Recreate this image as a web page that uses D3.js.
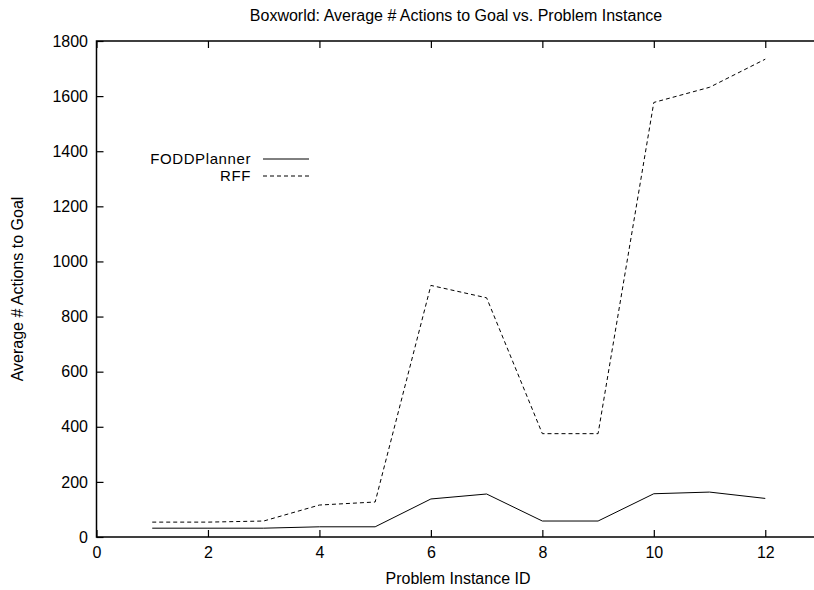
<!DOCTYPE html>
<html>
<head>
<meta charset="utf-8">
<script src="https://cdn.jsdelivr.net/npm/d3@7"></script>
<style>
  html, body { margin: 0; padding: 0; background: #fff; }
  svg { display: block; font-family: "Liberation Sans", Arial, sans-serif; }
</style>
</head>
<body>
<svg id="chart" width="814" height="590"></svg>
<script>
// Problem instances and average number of actions to reach the goal
const instances = [1, 2, 3, 4, 5, 6, 7, 8, 9, 10, 11, 12];
const foddPlanner = [32, 32, 32, 37, 37, 138, 156, 58, 58, 157, 163, 140];
const rff = [54, 54, 58, 116, 127, 913, 868, 375, 375, 1577, 1632, 1734];

const xTicks = [0, 2, 4, 6, 8, 10, 12];
const yTicks = [0, 200, 400, 600, 800, 1000, 1200, 1400, 1600, 1800];

const seriesList = [
  { name: "FODDPlanner", values: foddPlanner, dash: null },
  { name: "RFF", values: rff, dash: "4,3" }
];

const svg = d3.select("#chart");
const plotLeft = 96.5, plotRight = 821, plotTop = 41, plotBottom = 537;
const fontSize = "16px";

const x = d3.scaleLinear().domain([0, 13]).range([plotLeft, plotRight]);
const y = d3.scaleLinear().domain([0, 1800]).range([plotBottom, plotTop]);

const tickLen = 7;

// Frame
svg.append("rect")
  .attr("x", plotLeft).attr("y", plotTop)
  .attr("width", plotRight - plotLeft).attr("height", plotBottom - plotTop)
  .attr("fill", "none").attr("stroke", "#000").attr("stroke-width", 1.5);

// Bottom and left axes with labels, ticks pointing inward
const xAxis = svg.append("g")
  .attr("transform", `translate(0,${plotBottom})`)
  .call(d3.axisBottom(x).tickValues(xTicks).tickFormat(d3.format("d"))
    .tickSizeInner(-tickLen).tickSizeOuter(0).tickPadding(10));
const yAxis = svg.append("g")
  .attr("transform", `translate(${plotLeft},0)`)
  .call(d3.axisLeft(y).tickValues(yTicks).tickFormat(d3.format("d"))
    .tickSizeInner(-tickLen).tickSizeOuter(0).tickPadding(8.5));

// Mirrored ticks on top and right
const xTop = svg.append("g")
  .attr("transform", `translate(0,${plotTop})`)
  .call(d3.axisTop(x).tickValues(xTicks).tickSizeInner(-tickLen).tickSizeOuter(0).tickFormat(""));
const yRight = svg.append("g")
  .attr("transform", `translate(${plotRight},0)`)
  .call(d3.axisRight(y).tickValues(yTicks).tickSizeInner(-tickLen).tickSizeOuter(0).tickFormat(""));

[xAxis, yAxis, xTop, yRight].forEach(g => {
  g.select(".domain").remove();
  g.selectAll(".tick line").attr("stroke", "#000").attr("stroke-width", 1.2);
  g.selectAll(".tick text")
    .attr("fill", "#000")
    .style("font-size", fontSize)
    .style("font-family", "Liberation Sans, Arial, sans-serif");
});

// Series lines
const line = d3.line()
  .x((d, i) => x(instances[i]))
  .y(d => y(d));

seriesList.forEach(s => {
  svg.append("path")
    .datum(s.values)
    .attr("d", line)
    .attr("fill", "none")
    .attr("stroke", "#000")
    .attr("stroke-width", 1)
    .attr("stroke-dasharray", s.dash);
});

// Legend
const legend = svg.append("g");
seriesList.forEach((s, i) => {
  const ly = 159 + i * 17;
  legend.append("text")
    .attr("x", 251).attr("y", ly)
    .attr("dy", "0.35em")
    .attr("text-anchor", "end")
    .style("font-size", "15px")
    .style("letter-spacing", "0.6px")
    .text(s.name);
  legend.append("line")
    .attr("x1", 263).attr("x2", 309)
    .attr("y1", ly).attr("y2", ly)
    .attr("stroke", "#000").attr("stroke-width", 1)
    .attr("stroke-dasharray", s.dash);
});

// Titles
svg.append("text")
  .attr("x", 456).attr("y", 15).attr("dy", "0.35em")
  .attr("text-anchor", "middle")
  .style("font-size", fontSize)
  .text("Boxworld: Average # Actions to Goal vs. Problem Instance");

svg.append("text")
  .attr("x", 458).attr("y", 578).attr("dy", "0.35em")
  .attr("text-anchor", "middle")
  .style("font-size", fontSize)
  .text("Problem Instance ID");

svg.append("text")
  .attr("transform", "translate(17,289) rotate(-90)")
  .attr("dy", "0.35em")
  .attr("text-anchor", "middle")
  .style("font-size", fontSize)
  .text("Average # Actions to Goal");
</script>
</body>
</html>
